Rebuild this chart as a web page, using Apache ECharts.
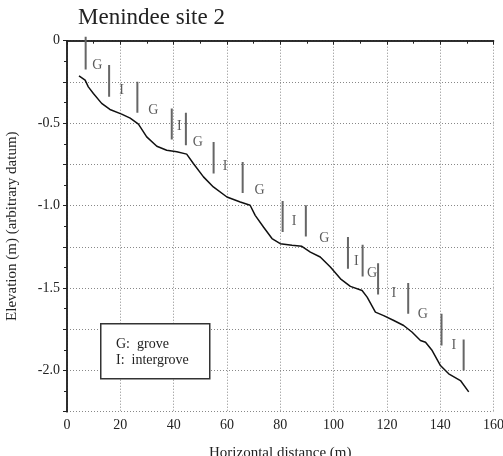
<!DOCTYPE html>
<html>
<head>
<meta charset="utf-8">
<title>Menindee site 2</title>
<script src="https://cdn.jsdelivr.net/npm/echarts@6/dist/echarts.min.js"></script>
<style>
  html, body { margin: 0; padding: 0; background: #fff; }
  #chart { width: 503px; height: 456px; }
</style>
</head>
<body>
<div id="chart"></div>
<script>
// ground profile, distance (m) / elevation (m)
var profileX = [4.5, 6.8, 8, 9.9, 13, 16.1, 20.5, 23.7, 26.8, 29.9, 33.7, 37.4, 41.2, 44.9, 47.4, 51.2, 54.9, 60, 65, 68.7, 70.6, 73.7, 76.9, 80, 84.4, 88.1, 91.3, 95, 98.8, 102.6, 106.3, 110.7, 112.6, 115.7, 118.8, 122.6, 126.3, 129.5, 132.6, 134.5, 137, 140.1, 143.2, 147.6, 150.7]
var profileY = [-0.213, -0.239, -0.28, -0.32, -0.38, -0.417, -0.445, -0.47, -0.506, -0.583, -0.64, -0.664, -0.674, -0.688, -0.745, -0.826, -0.887, -0.948, -0.978, -0.998, -1.059, -1.13, -1.2, -1.231, -1.241, -1.247, -1.282, -1.312, -1.373, -1.444, -1.49, -1.515, -1.555, -1.646, -1.667, -1.697, -1.727, -1.768, -1.818, -1.829, -1.879, -1.97, -2.02, -2.061, -2.13]

// zone boundary bars
var markerX = [7.0, 15.8, 26.4, 39.3, 44.6, 55.0, 65.9, 80.9, 89.6, 105.4, 110.9, 116.7, 128.0, 140.5, 148.8]
var markerTop = [0.024, -0.148, -0.249, -0.411, -0.437, -0.614, -0.735, -0.972, -0.998, -1.19, -1.237, -1.349, -1.47, -1.656, -1.812]
var markerBottom = [-0.174, -0.34, -0.437, -0.599, -0.634, -0.806, -0.923, -1.16, -1.187, -1.383, -1.43, -1.539, -1.656, -1.849, -2.0]

// zone letters
var zoneLabels = ['G', 'I', 'G', 'I', 'G', 'I', 'G', 'I', 'G', 'I', 'G', 'I', 'G', 'I']
var zoneX = [11.4, 20.5, 32.4, 42.1, 49.1, 59.3, 72.2, 85.2, 96.5, 108.5, 114.4, 122.6, 133.5, 145.1]
var zoneY = [-0.148, -0.304, -0.425, -0.522, -0.617, -0.761, -0.907, -1.093, -1.197, -1.338, -1.409, -1.531, -1.66, -1.849]

var xTicks = [0, 160, 20]
var yTicks = [-2.25, 0, 0.25]

var serif = 'Liberation Serif'

var profileData = []
for (var i = 0; i < profileX.length; i++) {
  profileData.push([profileX[i], profileY[i]])
}
// bars as one broken line
var markerData = []
for (var j = 0; j < markerX.length; j++) {
  markerData.push([markerX[j], markerTop[j]])
  markerData.push([markerX[j], markerBottom[j]])
  markerData.push('-')
}
var zoneData = []
for (var k = 0; k < zoneLabels.length; k++) {
  zoneData.push({ value: [zoneX[k], zoneY[k]], name: zoneLabels[k] })
}

var chart = echarts.init(document.getElementById('chart'), null, { renderer: 'canvas' })

var gridLine = { show: true, lineStyle: { color: '#888', type: [1, 2], width: 1 } }
var frameLine = { show: true, lineStyle: { color: '#222', width: 1.5 } }

chart.setOption({
  backgroundColor: '#fff',
  animation: false,
  title: {
    text: 'Menindee site 2',
    left: 73,
    top: 1,
    textStyle: { fontFamily: serif, fontSize: 23, fontWeight: 'normal', color: '#222' }
  },
  grid: { left: 67, right: 9.5, top: 40.7, bottom: 44.3, outerBoundsMode: 'none' },
  xAxis: [
    {
      type: 'value',
      min: xTicks[0],
      max: xTicks[1],
      interval: xTicks[2],
      name: 'Horizontal distance (m)',
      nameLocation: 'middle',
      nameGap: 34,
      nameTextStyle: { fontFamily: serif, fontSize: 15, color: '#222', verticalAlign: 'top' },
      axisLine: frameLine,
      axisTick: { show: true, length: 4, lineStyle: { color: '#222' } },
      minorTick: { show: true, splitNumber: 2, length: 3, lineStyle: { color: '#222' } },
      axisLabel: { fontFamily: serif, fontSize: 14, color: '#222', margin: 7 },
      splitLine: gridLine
    },
    {
      type: 'value',
      position: 'top',
      min: xTicks[0],
      max: xTicks[1],
      interval: xTicks[2],
      axisLine: frameLine,
      axisTick: { show: true, inside: true, length: 3, lineStyle: { color: '#222' } },
      minorTick: { show: true, splitNumber: 2, length: 2, lineStyle: { color: '#222' } },
      axisLabel: { show: false },
      splitLine: { show: false }
    }
  ],
  yAxis: [
    {
      type: 'value',
      min: yTicks[0],
      max: yTicks[1],
      interval: yTicks[2],
      name: 'Elevation (m) (arbitrary datum)',
      nameLocation: 'middle',
      nameGap: 47,
      nameRotate: 90,
      nameTextStyle: { fontFamily: serif, fontSize: 15, color: '#222' },
      axisLine: frameLine,
      axisTick: { show: true, length: 4, lineStyle: { color: '#222' } },
      minorTick: { show: true, splitNumber: 2, length: 3, lineStyle: { color: '#222' } },
      axisLabel: {
        fontFamily: serif,
        fontSize: 14,
        color: '#222',
        margin: 7,
        formatter: function(v) {
          if (Math.abs(v * 2 - Math.round(v * 2)) > 1e-6) return ''
          if (v === 0) return '0'
          return v.toFixed(1)
        }
      },
      splitLine: gridLine
    },
    {
      type: 'value',
      position: 'right',
      min: yTicks[0],
      max: yTicks[1],
      interval: yTicks[2],
      axisLine: frameLine,
      axisTick: { show: true, inside: true, length: 3, lineStyle: { color: '#222' } },
      minorTick: { show: true, splitNumber: 2, length: 2, lineStyle: { color: '#222' } },
      axisLabel: { show: false },
      splitLine: { show: false }
    }
  ],
  graphic: [
    {
      type: 'rect',
      left: 100,
      top: 323,
      shape: { width: 109, height: 55 },
      style: { fill: '#fff', stroke: '#333', lineWidth: 1.5 },
      z: 10
    },
    {
      type: 'text',
      left: 116,
      top: 337,
      style: { text: 'G:  grove', font: '14px "Liberation Serif"', fill: '#222' },
      z: 11
    },
    {
      type: 'text',
      left: 116,
      top: 353,
      style: { text: 'I:  intergrove', font: '14px "Liberation Serif"', fill: '#222' },
      z: 11
    }
  ],
  series: [
    {
      name: 'profile',
      type: 'line',
      data: profileData,
      showSymbol: false,
      smooth: false,
      lineStyle: { color: '#111', width: 1.5 },
      z: 5
    },
    {
      name: 'boundaries',
      type: 'line',
      data: markerData,
      showSymbol: false,
      connectNulls: false,
      clip: false,
      lineStyle: { color: '#666', width: 2 },
      z: 4
    },
    {
      name: 'zones',
      type: 'scatter',
      data: zoneData,
      symbolSize: 2,
      itemStyle: { color: 'rgba(0,0,0,0)' },
      label: {
        show: true,
        position: 'inside',
        formatter: function(p) { return p.name },
        fontFamily: serif,
        fontSize: 14,
        color: '#333'
      },
      z: 6
    }
  ]
})
</script>
</body>
</html>
